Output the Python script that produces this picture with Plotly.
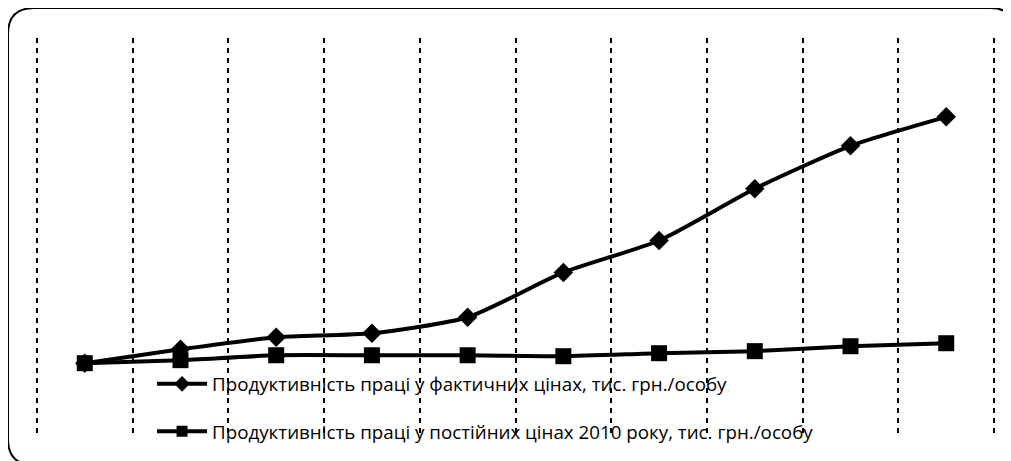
import plotly.graph_objects as go

years = ["2010", "2011", "2012", "2013", "2014", "2015", "2016", "2017", "2018", "2019"]
actual_prices = [53.3, 63.5, 72.3, 75.2, 86.9, 119.7, 143.1, 181.0, 212.4, 233.6]
const_prices = [53.3, 55.5, 59.1, 59.1, 59.1, 58.4, 60.6, 62.1, 65.7, 67.9]

name_actual = "Продуктивність праці у фактичних цінах, тис. грн./особу"
name_const = "Продуктивність праці у постійних цінах 2010 року, тис. грн./особу"

# page body has an 8px margin, so the figure is drawn a bit smaller
W, H = 1003, 453
ml, mr, mt, mb = 27, 15, 30, 24

line_style = dict(color="black", width=4, shape="spline", smoothing=0.6)

fig = go.Figure()
fig.add_trace(go.Scatter(
    x=years, y=actual_prices, name=name_actual, showlegend=False,
    mode="lines+markers", line=line_style,
    marker=dict(symbol="diamond", size=15, color="black"),
))
fig.add_trace(go.Scatter(
    x=years, y=const_prices, name=name_const, showlegend=False,
    mode="lines+markers", line=line_style,
    marker=dict(symbol="square", size=16, color="black"),
))
# legend entries with smaller symbols
fig.add_trace(go.Scatter(
    x=[None], y=[None], name=name_actual, legendgroup="a", mode="lines+markers",
    line=dict(color="black", width=4), marker=dict(symbol="diamond", size=12, color="black"),
))
fig.add_trace(go.Scatter(
    x=[None], y=[None], name=name_const, legendgroup="b", mode="lines+markers",
    line=dict(color="black", width=4), marker=dict(symbol="square", size=11, color="black"),
))

# rounded frame (pixel -> paper coords)
pw, ph = W - ml - mr, H - mt - mb
def px_(x):
    return (x - ml) / pw
def py_(y):
    return 1 - (y - mt) / ph
x0, x1, y0, y1, r = 0, 1008, 0, 458, 26
path = (f"M {px_(x0 + r)},{py_(y0)} L {px_(x1 - r)},{py_(y0)} "
        f"Q {px_(x1)},{py_(y0)} {px_(x1)},{py_(y0 + r)} L {px_(x1)},{py_(y1 - r)} "
        f"Q {px_(x1)},{py_(y1)} {px_(x1 - r)},{py_(y1)} L {px_(x0 + r)},{py_(y1)} "
        f"Q {px_(x0)},{py_(y1)} {px_(x0)},{py_(y1 - r)} L {px_(x0)},{py_(y0 + r)} "
        f"Q {px_(x0)},{py_(y0)} {px_(x0 + r)},{py_(y0)} Z")

fig.update_layout(
    width=W, height=H,
    margin=dict(l=ml, r=mr, t=mt, b=mb),
    paper_bgcolor="white", plot_bgcolor="white",
    font=dict(family="Open Sans", size=18.75, color="black"),
    showlegend=True,
    legend=dict(x=0.1218, y=0.18, xanchor="left", yanchor="top", bgcolor="rgba(0,0,0,0)",
                traceorder="grouped", tracegroupgap=20, itemwidth=50),
    shapes=[dict(type="path", xref="paper", yref="paper", path=path,
                 line=dict(color="black", width=2), layer="below")],
)
fig.update_xaxes(type="category", range=[-0.52, 9.52], tickson="boundaries",
                 showgrid=True, gridcolor="black", gridwidth=2, griddash="5px,5px",
                 showticklabels=False, ticks="", showline=False, zeroline=False)
fig.update_yaxes(range=[0, 291.3], showgrid=False, showticklabels=False,
                 ticks="", showline=False, zeroline=False)

fig.write_html("out.html")
